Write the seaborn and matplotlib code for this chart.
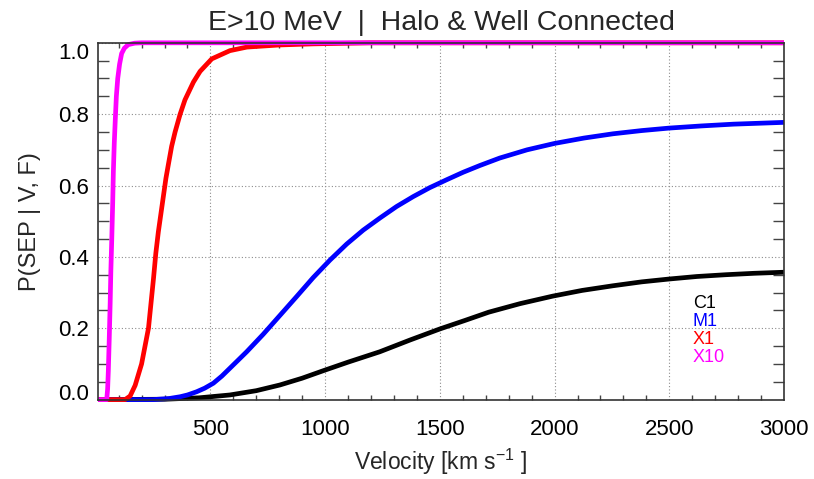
import numpy as np
import pandas as pd
import matplotlib
matplotlib.use('Agg')
import matplotlib.pyplot as plt
import matplotlib.transforms as mtransforms
from matplotlib.ticker import MultipleLocator, FixedLocator
import seaborn as sns

# ---- data ----
classes = ['C1', 'M1', 'X1', 'X10']
colors = ['#000000', '#0000ff', '#ff0000', '#ff00ff']

c1_v = [10, 300, 451, 585, 700, 803, 900, 992, 1100, 1238, 1370, 1500, 1610, 1713, 1850,
        1992, 2120, 2254, 2380, 2500, 2620, 2746, 2870, 3000]
c1_p = [0.0, 0.001, 0.005, 0.013, 0.025, 0.041, 0.060, 0.081, 0.105, 0.134, 0.167, 0.198, 0.222, 0.245, 0.269,
        0.290, 0.306, 0.319, 0.330, 0.338, 0.345, 0.350, 0.354, 0.357]

m1_v = [10, 250, 320, 368, 400, 440, 475, 513, 550, 585, 620, 658, 730, 803, 876, 948, 1021, 1094, 1166, 1239,
        1311, 1384, 1456, 1529, 1601, 1674, 1761, 1880, 2000, 2128, 2255, 2380, 2500, 2640, 2780, 3000]
m1_p = [0.0, 0.0, 0.003, 0.008, 0.013, 0.022, 0.032, 0.046, 0.066, 0.088, 0.110, 0.134, 0.183, 0.236, 0.289, 0.342,
        0.391, 0.436, 0.475, 0.509, 0.541, 0.569, 0.594, 0.616, 0.637, 0.656, 0.677, 0.700, 0.718, 0.733, 0.745,
        0.754, 0.761, 0.767, 0.772, 0.777]

x1_v = [10, 128, 150, 172, 186, 200, 215, 230, 241, 252, 262, 273, 284, 295, 306, 317, 331, 346, 368, 389,
        426, 455, 506, 585, 659, 803, 947, 1200, 3000]
x1_p = [0.0, 0.0, 0.01, 0.04, 0.07, 0.10, 0.15, 0.20, 0.27, 0.34, 0.41, 0.47, 0.52, 0.57, 0.62, 0.66, 0.71, 0.75,
        0.80, 0.84, 0.89, 0.92, 0.955, 0.978, 0.988, 0.994, 0.997, 1.0, 1.0]

x10_v = [10, 48, 52, 55, 59, 63, 66, 70, 74, 77, 81, 85, 90, 96, 104, 113, 125, 142, 170, 200, 3000]
x10_p = [0.0, 0.0, 0.03, 0.08, 0.17, 0.27, 0.36, 0.45, 0.55, 0.64, 0.72, 0.78, 0.85, 0.90, 0.94, 0.97, 0.985,
         0.995, 0.999, 1.0, 1.0]

series_v = [c1_v, m1_v, x1_v, x10_v]
series_p = [c1_p, m1_p, x1_p, x10_p]

x_ticks = [500, 1000, 1500, 2000, 2500, 3000]
y_ticks = [0.0, 0.2, 0.4, 0.6, 0.8, 1.0]
y_ticklabels = ['0.0', '0.2', '0.4', '0.6', '0.8', '1.0']

title = 'E>10 MeV  |  Halo & Well Connected'
xlabel = r'Velocity [km s$^{\mathregular{-1}}$ ]'
ylabel = 'P(SEP | V, F)'

# ---- style ----
sns.set_theme(style='white')
plt.rcParams['font.family'] = ['Liberation Sans', 'DejaVu Sans']
plt.rcParams['mathtext.fontset'] = 'custom'
plt.rcParams['mathtext.rm'] = 'Liberation Sans'
plt.rcParams['mathtext.it'] = 'Liberation Sans'

df = pd.concat([pd.DataFrame({'Velocity': v, 'P': p, 'Class': c})
                for v, p, c in zip(series_v, series_p, classes)], ignore_index=True)

fig = plt.figure(figsize=(8.14, 4.79), dpi=100)
ax = fig.add_axes([98 / 814, 1 - 399.6 / 479, 686 / 814, 356.8 / 479])

sns.lineplot(data=df, x='Velocity', y='P', hue='Class', hue_order=classes,
             palette=dict(zip(classes, colors)), lw=3.4, legend=False,
             sort=False, estimator=None, ax=ax)
for ln in ax.lines:
    ln.set_clip_on(False)
    ln.set_solid_capstyle('butt')
    ln.set_solid_joinstyle('round')

ax.set_xlim(10, 3000)
ax.set_ylim(0, 1.0)

ax.xaxis.set_major_locator(FixedLocator(x_ticks))
ax.xaxis.set_minor_locator(MultipleLocator(100))
ax.yaxis.set_major_locator(FixedLocator(y_ticks))
ax.yaxis.set_minor_locator(MultipleLocator(0.05))
ax.set_yticklabels(y_ticklabels)

ax.grid(True, which='major', color='#8c8c8c', linestyle=(0, (1, 2)), linewidth=0.8)
for s in ax.spines.values():
    s.set_color('#333333')
    s.set_linewidth(1.2)

ax.tick_params(axis='both', which='major', length=0, labelsize=16, colors='#000000')
ax.tick_params(axis='x', which='major', pad=14)
ax.tick_params(axis='y', which='major', pad=6.5)
ax.tick_params(axis='x', which='minor', direction='in', length=3.5, width=1.0,
               color='#444444', top=True, bottom=True)
ax.tick_params(axis='y', which='minor', direction='in', length=8, width=1.0,
               color='#444444', left=True, right=True)

ax.set_title(title, fontsize=20.5, pad=9.5)
ax.set_xlabel(xlabel, fontsize=16.5, labelpad=5)
ax.set_ylabel(ylabel, fontsize=17, labelpad=12)

# legend as colored text
for i, (c, col) in enumerate(zip(classes, colors)):
    ax.text(0.867, 0.270 - i * 0.0505, c, color=col, fontsize=13,
            transform=ax.transAxes, ha='left', va='center')

# shift extreme y tick labels inward as in reference
yt = ax.yaxis.get_major_ticks()
up = mtransforms.ScaledTranslation(0, 8 / 100, fig.dpi_scale_trans)
down = mtransforms.ScaledTranslation(0, -8 / 100, fig.dpi_scale_trans)
yt[0].label1.set_transform(yt[0].label1.get_transform() + up)
yt[-1].label1.set_transform(yt[-1].label1.get_transform() + down)

fig.savefig('out.png', dpi=100)
